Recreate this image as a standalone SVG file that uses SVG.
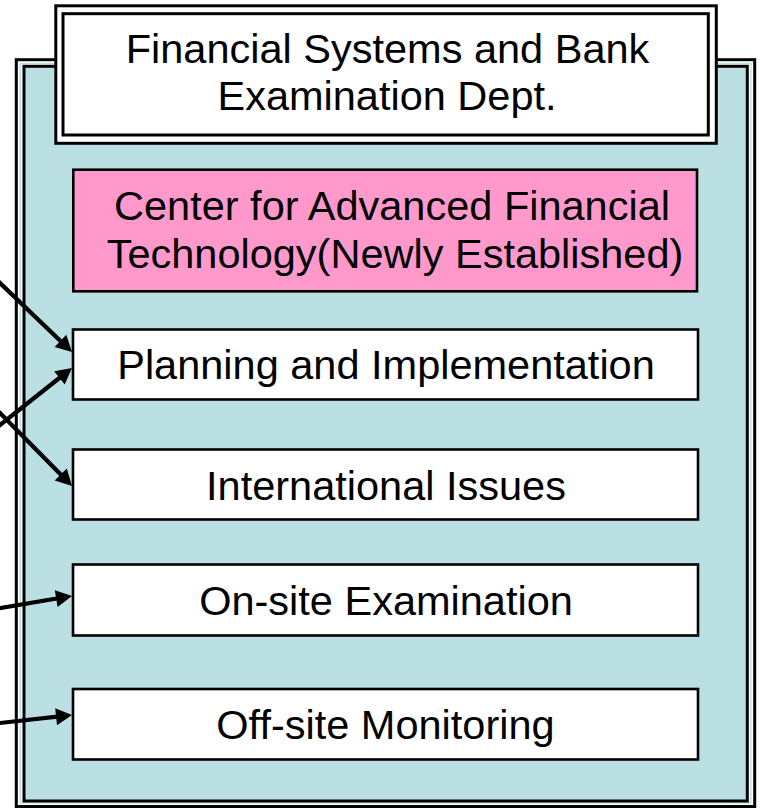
<svg xmlns="http://www.w3.org/2000/svg" width="760" height="809" viewBox="0 0 760 809">
  <style>
    .t { font-family: "Liberation Sans", Arial, sans-serif; font-size: 41.5px; fill: #000; text-anchor: middle; }
    .box { fill: #FFFFFF; stroke: #000; stroke-width: 2.6; }
    .pink { fill: #FF99CC; stroke: #000; stroke-width: 2.6; }
    .dbl { stroke: #000; stroke-width: 3; }
    .conn { stroke: #000; stroke-width: 4.2; fill: none; }
    .head { fill: #000; stroke: none; }
  </style>
  <rect width="760" height="809" fill="#FFFFFF"/>

  <g id="panel">
    <rect x="16.3" y="59.7" width="738.4" height="746.8" fill="#FFFFFF" class="dbl"/>
    <rect x="20.3" y="63.5" width="730.6" height="739.5" fill="none" stroke="#BBE0E3" stroke-width="1.4"/>
    <rect x="24" y="66.3" width="723.3" height="734.7" fill="#BBE0E3" class="dbl"/>
  </g>

  <g id="title">
    <rect x="55.8" y="5.8" width="660.5" height="137.5" fill="#FFFFFF" class="dbl"/>
    <rect x="63" y="13.7" width="645.3" height="121.3" fill="#FFFFFF" class="dbl"/>
    <text class="t" x="387.5" y="63.3">Financial Systems and Bank</text>
    <text class="t" x="387" y="110">Examination Dept.</text>
  </g>

  <g id="center">
    <rect x="73.3" y="169.7" width="623.7" height="121.6" class="pink"/>
    <text class="t" x="392" y="219.5">Center for Advanced Financial</text>
    <text class="t" x="395" y="268.3">Technology(Newly Established)</text>
  </g>

  <g id="planning">
    <rect x="73" y="329.5" width="625" height="70" class="box"/>
    <text class="t" x="386" y="379">Planning and Implementation</text>
  </g>

  <g id="international">
    <rect x="73" y="449.5" width="625" height="70" class="box"/>
    <text class="t" x="386" y="499.5">International Issues</text>
  </g>

  <g id="onsite">
    <rect x="73" y="564.5" width="625" height="71" class="box"/>
    <text class="t" x="386" y="615">On-site Examination</text>
  </g>

  <g id="offsite">
    <rect x="73" y="689" width="625" height="70.5" class="box"/>
    <text class="t" x="385.5" y="739">Off-site Monitoring</text>
  </g>

  <g id="connectors">
    <line class="conn" x1="-10" y1="273.4" x2="66.2" y2="346.5"/>
    <polygon class="head" points="72,352 54.6,347.1 66.3,334.8"/>
    <line class="conn" x1="-10" y1="432.9" x2="65.7" y2="373"/>
    <polygon class="head" points="72,368 64.7,384.6 54.2,371.3"/>
    <line class="conn" x1="-10" y1="402.9" x2="66.4" y2="480.3"/>
    <polygon class="head" points="72,486 54.7,480.6 66.8,468.6"/>
    <line class="conn" x1="-10" y1="609.7" x2="64.1" y2="597.3"/>
    <polygon class="head" points="72,596 57.6,607 54.8,590.2"/>
    <line class="conn" x1="-10" y1="724.1" x2="64" y2="715.9"/>
    <polygon class="head" points="72,715 57,725.2 55.2,708.3"/>
  </g>
</svg>
